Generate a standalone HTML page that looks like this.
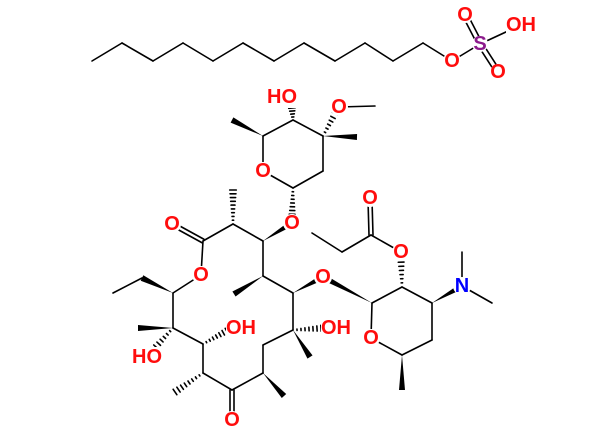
<!DOCTYPE html>
<html><head><meta charset="utf-8"><style>
html,body{margin:0;padding:0;background:#fff;width:600px;height:434px;overflow:hidden}
svg{display:block}
text{font-family:"Liberation Sans",sans-serif;font-size:20px;font-weight:bold;dominant-baseline:central;text-anchor:middle}
.o{fill:#ff0d0d}.n{fill:#0000ff}.s{fill:#8b1a8b}
</style></head><body>
<svg id="s" width="600" height="434" viewBox="0 0 600 434" xmlns="http://www.w3.org/2000/svg">
<g id="b" stroke="#000" stroke-width="1.6" fill="none" stroke-linecap="round"></g>
<g id="w" fill="#000"></g>
<g id="lbl">
<circle cx="452" cy="61" r="9" fill="#fff"/><text x="452" y="61" class="o">O</text>
<circle cx="480" cy="44" r="8" fill="#fff"/><text x="480" y="44" class="s">S</text>
<circle cx="465" cy="15" r="8" fill="#fff"/><text x="465" y="15" class="o">O</text>
<rect x="506" y="15" width="30" height="20" fill="#fff"/><text x="521" y="25" class="o">OH</text>
<circle cx="498" cy="72" r="8" fill="#fff"/><text x="498" y="72" class="o">O</text>

<rect x="268" y="88" width="30" height="20" fill="#fff"/><text x="282" y="97" class="o">HO</text>
<circle cx="339" cy="107" r="9" fill="#fff"/><text x="339" y="107" class="o">O</text>
<circle cx="263" cy="171" r="9" fill="#fff"/><text x="263" y="171" class="o">O</text>
<circle cx="292" cy="223" r="9" fill="#fff"/><text x="292" y="223" class="o">O</text>
<circle cx="172" cy="224" r="9" fill="#fff"/><text x="172" y="224" class="o">O</text>
<circle cx="201" cy="275" r="9" fill="#fff"/><text x="201" y="275" class="o">O</text>
<circle cx="323" cy="277" r="9" fill="#fff"/><text x="323" y="277" class="o">O</text>
<rect x="226" y="318" width="30" height="20" fill="#fff"/><text x="241" y="328" class="o">OH</text>
<rect x="321" y="318" width="30" height="20" fill="#fff"/><text x="336" y="328" class="o">OH</text>
<rect x="132" y="347" width="30" height="20" fill="#fff"/><text x="147" y="357" class="o">HO</text>
<circle cx="232" cy="420" r="9" fill="#fff"/><text x="232" y="420" class="o">O</text>
<circle cx="370" cy="198" r="9" fill="#fff"/><text x="370" y="198" class="o">O</text>
<circle cx="401" cy="252" r="9" fill="#fff"/><text x="401" y="252" class="o">O</text>
<circle cx="371" cy="338" r="9" fill="#fff"/><text x="371" y="338" class="o">O</text>
<circle cx="462" cy="286" r="9" fill="#fff"/><text x="462" y="286" class="n">N</text>
</g>
</svg>
<script>
var B=document.getElementById('b'),W=document.getElementById('w'),NS='http://www.w3.org/2000/svg';
function L(a,b,c,d){var l=document.createElementNS(NS,'line');l.setAttribute('x1',a);l.setAttribute('y1',b);l.setAttribute('x2',c);l.setAttribute('y2',d);B.appendChild(l);}
function P(pts){for(var i=0;i<pts.length-1;i++)L(pts[i][0],pts[i][1],pts[i+1][0],pts[i+1][1]);}
function D(a,b,c,d,o){var dx=c-a,dy=d-b,l=Math.hypot(dx,dy),nx=-dy/l*o,ny=dx/l*o;L(a+nx,b+ny,c+nx,d+ny);L(a-nx,b-ny,c-nx,d-ny);}
function wedge(a,b,c,d){var dx=c-a,dy=d-b,l=Math.hypot(dx,dy),nx=-dy/l*3,ny=dx/l*3;var p=document.createElementNS(NS,'polygon');p.setAttribute('points',a+','+b+' '+(c+nx)+','+(d+ny)+' '+(c-nx)+','+(d-ny));W.appendChild(p);}
function hash(a,b,c,d){var dx=c-a,dy=d-b,l=Math.hypot(dx,dy),ux=-dy/l,uy=dx/l,n=Math.max(4,Math.round(l/4));for(var i=1;i<=n;i++){var t=i/n,x=a+dx*t,y=b+dy*t,h=3*t+0.3;L(x+ux*h,y+uy*h,x-ux*h,y-uy*h);}}
var ch=[],xs=[92,122,153,183,213,243,274,304,335,365,393,423];for(var i=0;i<12;i++)ch.push([xs[i],i%2?43:61]);ch.push([452,61]);P(ch);
L(452,61,480,44);L(480,44,521,25);D(480,44,465,15,2.5);D(480,44,498,72,2.5);
P([[263,136],[293,120],[323,136],[323,171],[293,188],[263,171],[263,136]]);
hash(293,120,292,108);L(339,107,375,106);
wedge(263,136,232,120);wedge(323,136,357,137);hash(323,136,337,110);hash(293,188,292,218);
P([[203,241],[233,224],[263,241],[263,276],[293,293],[293,330],[263,345],[263,373],[232,390],[203,373],[203,344],[173,328],[173,293],[201,275],[203,241]]);
D(203,241,172,224,2);D(232,390,232,420,2);
hash(233,224,233,190);wedge(263,241,292,223);wedge(263,276,234,294);wedge(293,293,323,277);
hash(293,330,325,328);wedge(293,330,310,357);wedge(263,373,284,396);hash(203,373,175,392);
hash(203,344,230,329);wedge(173,328,138,328);hash(173,328,153,350);wedge(173,293,142,278);L(142,278,113,293);
P([[372,303],[402,287],[432,303],[432,340],[402,355],[371,338],[372,303]]);
wedge(372,303,323,277);hash(402,287,401,258);wedge(432,303,462,286);L(462,286,462,252);L(462,286,492,303);wedge(402,355,402,390);
L(401,252,371,235);D(371,235,370,200,2);P([[371,235],[342,252],[312,233]]);
</script>
</body></html>
